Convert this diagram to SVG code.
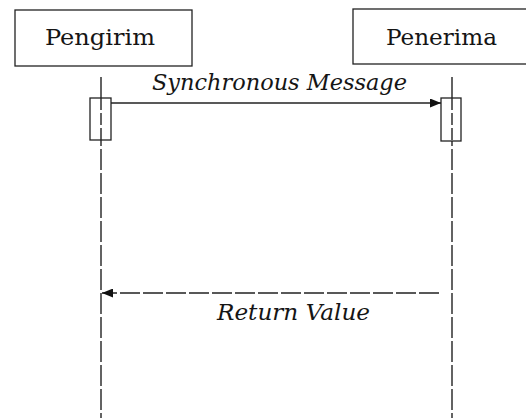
<svg xmlns="http://www.w3.org/2000/svg" width="526" height="418" viewBox="0 0 526 418">
  <defs>
    <style>
      .box { fill: #fff; stroke: #222; stroke-width: 1.3; }
      .lbl { font-family: 'DejaVu Serif', serif; font-size: 22px; fill: #151515; }
      .msg { font-family: 'DejaVu Serif', serif; font-size: 22px; font-style: italic; fill: #151515; }
      .life { stroke: #222; stroke-width: 1.4; stroke-dasharray: 21 3; fill: none; }
      .act { fill: #fff; stroke: #222; stroke-width: 1.3; }
      .sync { stroke: #222; stroke-width: 1.3; fill: none; }
      .ret { stroke: #222; stroke-width: 1.3; stroke-dasharray: 20 3; fill: none; }
    </style>
    <marker id="arrow" viewBox="0 0 10 10" refX="10" refY="5" markerWidth="11" markerHeight="9" markerUnits="userSpaceOnUse" orient="auto" preserveAspectRatio="none">
      <path d="M0,0 L10,5 L0,10 Z" fill="#111"/>
    </marker>
  </defs>

  <rect width="526" height="418" fill="#fff"/>

  <g id="pengirim">
    <rect class="box" x="15" y="10" width="177" height="56"/>
    <text class="lbl" x="100" y="45" text-anchor="middle" textLength="110" lengthAdjust="spacingAndGlyphs">Pengirim</text>
    <line class="life" x1="101" y1="77" x2="101" y2="418"/>
    <rect class="act" x="90" y="98" width="21" height="42"/>
    <line class="life" x1="101" y1="98" x2="101" y2="140" style="stroke-dasharray: 12 3"/>
  </g>

  <g id="penerima">
    <rect class="box" x="353" y="9" width="180" height="55"/>
    <text class="lbl" x="441.5" y="45" text-anchor="middle" textLength="111" lengthAdjust="spacingAndGlyphs">Penerima</text>
    <line class="life" x1="452" y1="77" x2="452" y2="418"/>
    <rect class="act" x="441" y="98" width="20" height="43"/>
    <line class="life" x1="452" y1="98" x2="452" y2="141" style="stroke-dasharray: 12 3"/>
  </g>

  <g id="connectors">
    <line class="sync" x1="111" y1="103" x2="441" y2="103" marker-end="url(#arrow)"/>
    <text class="msg" x="279.5" y="90" text-anchor="middle" textLength="255" lengthAdjust="spacingAndGlyphs">Synchronous Message</text>
    <line class="ret" x1="439" y1="293" x2="102" y2="293" marker-end="url(#arrow)"/>
    <text class="msg" x="293.5" y="320" text-anchor="middle" textLength="153" lengthAdjust="spacingAndGlyphs">Return Value</text>
  </g>
</svg>
